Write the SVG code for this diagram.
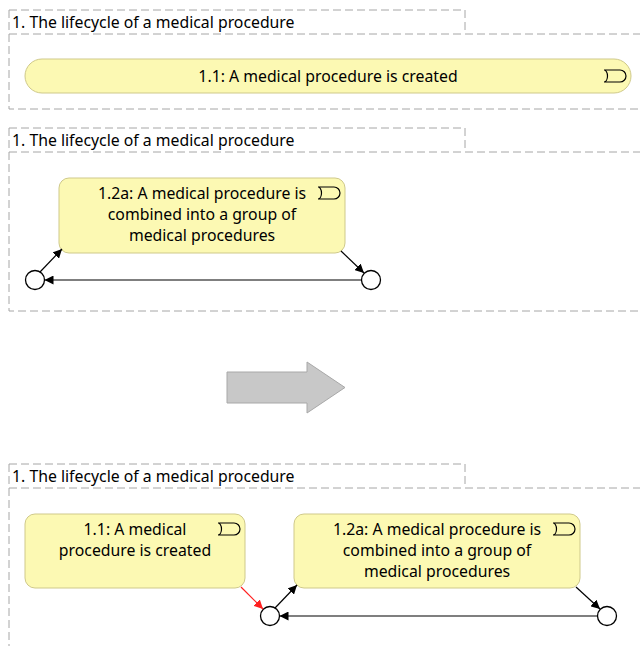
<svg xmlns="http://www.w3.org/2000/svg" width="640" height="646" viewBox="0 0 640 646">
  <style>
    .frame { fill: none; stroke: #a6a6a6; stroke-width: 1; stroke-dasharray: 8 4; }
    .title { font-family: "Noto Sans", "Liberation Sans", sans-serif; font-size: 15.8px; fill: #000; }
    .event { fill: #fcf9b3; stroke: #cfc98a; stroke-width: 1; }
    .label { font-family: "Noto Sans", "Liberation Sans", sans-serif; font-size: 15.8px; fill: #000; text-anchor: middle; }
    .icon { fill: none; stroke: #000; stroke-width: 1.2; }
    .state { fill: #fff; stroke: #000; stroke-width: 1.3; }
    .flow { fill: none; stroke: #000; stroke-width: 1.2; marker-end: url(#head); }
    .flow-red { fill: none; stroke: #ff2020; stroke-width: 1.2; marker-end: url(#head-red); }
  </style>
  <defs>
    <marker id="head" viewBox="0 0 10 10" refX="10" refY="5" markerWidth="9" markerHeight="9" markerUnits="userSpaceOnUse" orient="auto">
      <path d="M0,0 L10,5 L0,10 Z" fill="#000"/>
    </marker>
    <marker id="head-red" viewBox="0 0 10 10" refX="10" refY="5" markerWidth="9" markerHeight="9" markerUnits="userSpaceOnUse" orient="auto">
      <path d="M0,0 L10,5 L0,10 Z" fill="#ff2020"/>
    </marker>
    <!-- event trigger glyph -->
    <path id="trigger" d="M0,0 H16 A6,6 0 0 1 16,12 H0 A3.5,6 0 0 0 0,0 Z"/>
  </defs>

  <rect width="640" height="646" fill="#fff"/>

  <!-- Panel 1 -->
  <g id="panel1">
    <path class="frame" d="M9,10 H465 V34 M9,34 H640 M9,10 V109 H640"/>
    <text class="title" x="12" y="28">1. The lifecycle of a medical procedure</text>
  </g>
  <g id="p1-created">
    <rect class="event" x="25" y="59" width="606" height="34" rx="17"/>
    <text class="label" x="328" y="81.5">1.1: A medical procedure is created</text>
    <use href="#trigger" class="icon" x="604" y="70"/>
  </g>

  <!-- Panel 2 -->
  <g id="panel2">
    <path class="frame" d="M9,128 H465 V152 M9,152 H640 M9,128 V311 H640"/>
    <text class="title" x="12" y="146">1. The lifecycle of a medical procedure</text>
  </g>
  <g id="p2-combined">
    <rect class="event" x="59" y="178" width="286" height="75" rx="10"/>
    <text class="label" x="202" y="199">1.2a: A medical procedure is</text>
    <text class="label" x="202" y="220">combined into a group of</text>
    <text class="label" x="202" y="241">medical procedures</text>
    <use href="#trigger" class="icon" x="318" y="187"/>
  </g>
  <g id="p2-start"><circle class="state" cx="35" cy="280" r="9.5"/></g>
  <g id="p2-end"><circle class="state" cx="371" cy="280" r="9.5"/></g>
  <g id="p2-connectors">
    <line class="flow" x1="40" y1="272" x2="62" y2="249"/>
    <line class="flow" x1="341" y1="251" x2="364" y2="273"/>
    <line class="flow" x1="361.5" y1="280" x2="44.5" y2="280"/>
  </g>

  <!-- Transition arrow -->
  <g id="transition">
    <path d="M227,372 H307 V362 L345,387.5 L307,413 V403 H227 Z" fill="#c8c8c8" stroke="#a8a8a8" stroke-width="1"/>
  </g>

  <!-- Panel 3 -->
  <g id="panel3">
    <path class="frame" d="M9,464 H465 V488 M9,488 H640 M9,464 V646"/>
    <text class="title" x="12" y="482">1. The lifecycle of a medical procedure</text>
  </g>
  <g id="p3-created">
    <rect class="event" x="25" y="514" width="220" height="74" rx="10"/>
    <text class="label" x="135" y="535">1.1: A medical</text>
    <text class="label" x="135" y="556">procedure is created</text>
    <use href="#trigger" class="icon" x="218" y="523"/>
  </g>
  <g id="p3-combined">
    <rect class="event" x="294" y="514" width="286" height="74" rx="10"/>
    <text class="label" x="437" y="535">1.2a: A medical procedure is</text>
    <text class="label" x="437" y="556">combined into a group of</text>
    <text class="label" x="437" y="577">medical procedures</text>
    <use href="#trigger" class="icon" x="553" y="523"/>
  </g>
  <g id="p3-start"><circle class="state" cx="270" cy="616" r="9.5"/></g>
  <g id="p3-end"><circle class="state" cx="607" cy="616" r="9.5"/></g>
  <g id="p3-connectors">
    <line class="flow-red" x1="241" y1="587" x2="263" y2="609"/>
    <line class="flow" x1="275" y1="608" x2="297" y2="585"/>
    <line class="flow" x1="576" y1="587" x2="600" y2="609"/>
    <line class="flow" x1="597.5" y1="616" x2="279.5" y2="616"/>
  </g>
</svg>
